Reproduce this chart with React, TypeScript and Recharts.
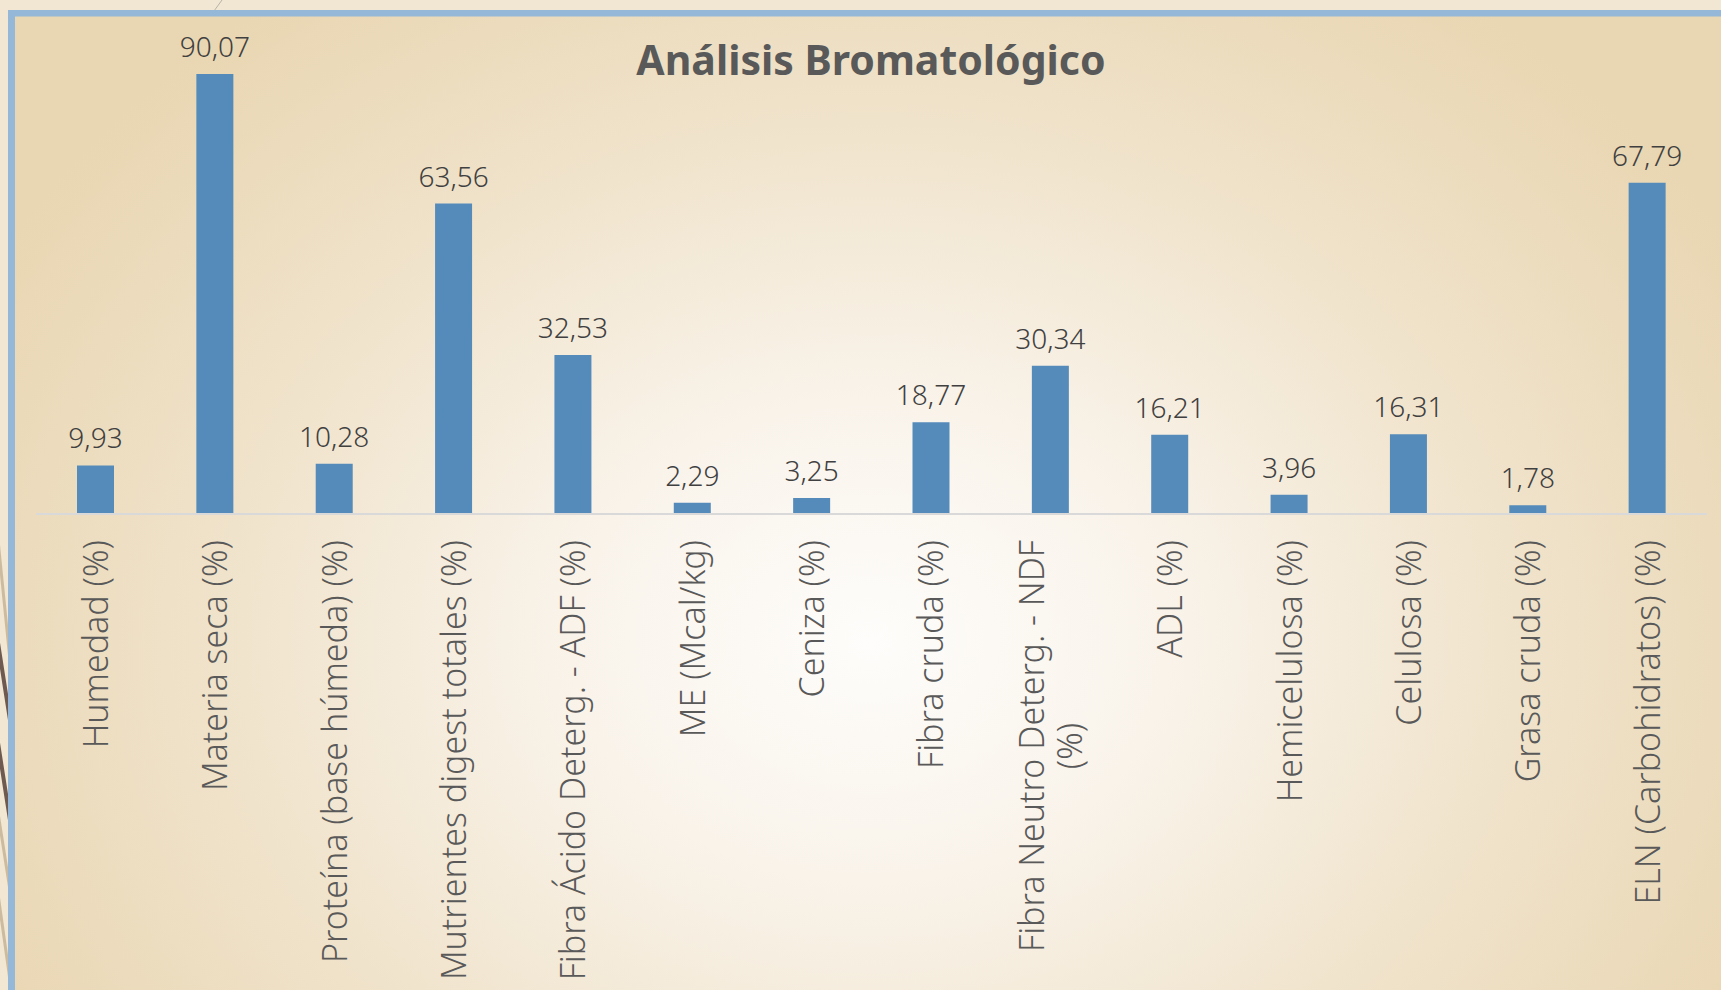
import { Bar, BarChart, LabelList, XAxis, YAxis } from 'recharts';

const categories = [
  'Humedad (%)',
  'Materia seca (%)',
  'Proteína (base húmeda) (%)',
  'Mutrientes digest totales (%)',
  'Fibra Ácido Deterg. - ADF (%)',
  'ME (Mcal/kg)',
  'Ceniza (%)',
  'Fibra cruda (%)',
  'Fibra Neutro Deterg. - NDF (%)',
  'ADL (%)',
  'Hemicelulosa (%)',
  'Celulosa (%)',
  'Grasa cruda (%)',
  'ELN (Carbohidratos) (%)',
];

const values = [9.93, 90.07, 10.28, 63.56, 32.53, 2.29, 3.25, 18.77, 30.34, 16.21, 3.96, 16.31, 1.78, 67.79];

const yDomain = [0, 100];

const data = categories.map((name, i) => ({ name, value: values[i] }));

const FONT = '"Noto Sans", sans-serif';
const TICK_SIZE = 34;

let ctx: CanvasRenderingContext2D | null = null;
function measure(text: string) {
  if (!ctx) ctx = document.createElement('canvas').getContext('2d');
  if (!ctx) return text.length * TICK_SIZE * 0.5;
  ctx.font = `300 ${TICK_SIZE}px ${FONT}`;
  return ctx.measureText(text).width;
}

// simple word wrap by character count, like the wrapped NDF label
function wrap(text: string, maxChars: number) {
  const words = text.split(' ');
  const lines: string[] = [];
  let cur = '';
  words.forEach((w) => {
    const next = cur ? cur + ' ' + w : w;
    if (next.length > maxChars && cur) {
      lines.push(cur);
      cur = w;
    } else {
      cur = next;
    }
  });
  if (cur) lines.push(cur);
  return lines;
}

function CategoryTick(props: any) {
  const { x, y, payload } = props;
  const lines = wrap(payload.value, 29);
  const n = lines.length;
  const maxW = Math.max(...lines.map(measure));
  return (
    <g transform={`translate(${x},${y + 26}) rotate(-90)`}>
      {lines.map((line, i) => (
        <text
          key={i}
          x={n === 1 ? 0 : -maxW / 2}
          y={(i - (n - 1) / 2) * 38 + TICK_SIZE * 0.36}
          textAnchor={n === 1 ? 'end' : 'middle'}
          fontFamily={FONT}
          fontWeight={300}
          fontSize={TICK_SIZE}
          fill="#595959"
        >
          {line}
        </text>
      ))}
    </g>
  );
}

function Backdrop() {
  return (
    <svg width={1721} height={990} style={{ position: 'absolute', left: 0, top: 0 }}>
      <defs>
        <radialGradient
          id="bg"
          gradientUnits="userSpaceOnUse"
          cx={870}
          cy={640}
          r={1000}
          gradientTransform="translate(870 640) scale(1 0.8) translate(-870 -640)"
        >
          <stop offset="0" stopColor="#fefdfb" />
          <stop offset="0.3" stopColor="#f9f3ea" />
          <stop offset="0.65" stopColor="#f0e3cb" />
          <stop offset="1" stopColor="#e9d6b2" />
        </radialGradient>
        <clipPath id="edge">
          <rect x={0} y={0} width={9} height={990} />
        </clipPath>
      </defs>
      <rect x={0} y={0} width={1721} height={990} fill="#f1e7d3" />
      <line x1={222} y1={0} x2={214} y2={11} stroke="#b9b2a8" strokeWidth={1} />
      <g clipPath="url(#edge)">
        <line x1={-4} y1={520} x2={10} y2={660} stroke="#cdbb9f" strokeWidth={3} />
        <line x1={-4} y1={630} x2={10} y2={720} stroke="#6e5a50" strokeWidth={4} />
        <line x1={-4} y1={730} x2={10} y2={820} stroke="#6e5a50" strokeWidth={4} />
        <line x1={-4} y1={800} x2={10} y2={890} stroke="#cdbb9f" strokeWidth={3} />
        <line x1={-4} y1={880} x2={10} y2={980} stroke="#cdbb9f" strokeWidth={3} />
      </g>
      <rect x={8} y={10} width={1713} height={980} fill="url(#bg)" />
      <rect x={8} y={10} width={1713} height={6.5} fill="#96b8d8" />
      <rect x={8} y={10} width={7} height={980} fill="#96b8d8" />
      <text
        x={871}
        y={75}
        textAnchor="middle"
        fontFamily={FONT}
        fontWeight={700}
        fontSize={41}
        fill="#595959"
      >
        Análisis Bromatológico
      </text>
    </svg>
  );
}

export default function App() {
  return (
    <div style={{ position: 'fixed', left: 0, top: 0, width: 1721, height: 990, overflow: 'hidden' }}>
      <Backdrop />
      <div style={{ position: 'absolute', left: 0, top: 0 }}>
        <BarChart
          width={1721}
          height={990}
          data={data}
          margin={{ top: 25.5, right: 14, left: 36, bottom: 446 }}
        >
          <XAxis
            dataKey="name"
            height={30}
            interval={0}
            tickLine={false}
            tickSize={0}
            tickMargin={0}
            axisLine={{ stroke: '#d9d9d9', strokeWidth: 2 }}
            tick={<CategoryTick />}
          />
          <YAxis hide domain={yDomain} />
          <Bar dataKey="value" fill="#558bbb" barSize={37} isAnimationActive={false}>
            <LabelList
              dataKey="value"
              position="top"
              offset={17}
              formatter={(v: any) => Number(v).toFixed(2).replace('.', ',')}
              style={{ fontFamily: FONT, fontWeight: 300, fontSize: 28, fill: '#404040' }}
            />
          </Bar>
        </BarChart>
      </div>
    </div>
  );
}
